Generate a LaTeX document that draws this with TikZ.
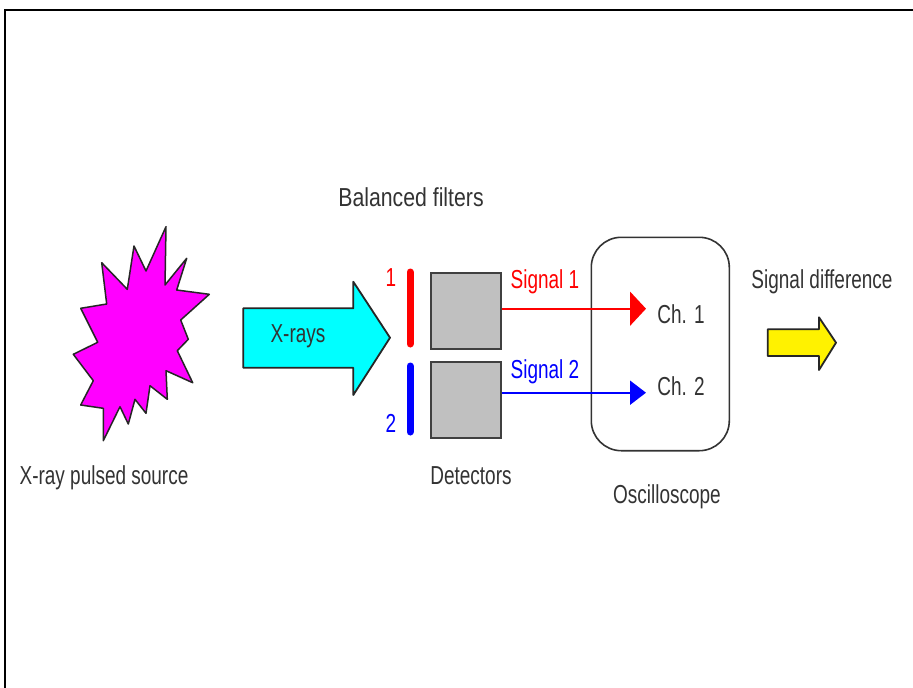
\documentclass[tikz,border=0pt]{standalone}
\usepackage{fontspec}
\setmainfont{Liberation Sans}
\usetikzlibrary{arrows.meta}
\definecolor{inkdark}{HTML}{333333}
\definecolor{burst}{HTML}{FF00FF}
\definecolor{xcyan}{HTML}{00FFFF}
\definecolor{boxgray}{HTML}{C0C0C0}
\tikzset{
  lab/.style={font=\fontsize{26}{26}\selectfont, text=inkdark, inner sep=0pt, anchor=base, xscale=.73, transform shape},
  outline/.style={draw=black!85, line width=1.8pt, line join=round},
  detector/.style={draw=black!75, line width=2pt, fill=boxgray, minimum width=70pt, inner sep=0pt},
  filterbar/.style={line width=7pt, line cap=round},
  sigline/.style={line width=2pt}
}
\begin{document}
\begin{tikzpicture}[x=1pt,y=-1pt]
\useasboundingbox (0,0) rectangle (913,688);
\fill[white] (0,0) rectangle (913,688);
\draw[line width=2.5pt,black] (5,688) -- (5,10) -- (913,10);
% source
\draw[outline,fill=burst,line width=1.5pt] (166,226.7) -- (146,271) -- (134,246) -- (127.3,289.3) -- (101.7,262.7) -- (106.7,304) -- (80.7,308.3) -- (97.7,342.3) -- (73.3,354.3) -- (93.3,380.7) -- (80.7,405) -- (103.3,408.3) -- (103.3,440.7) -- (120,406.7) -- (128.3,424) -- (135,399.3) -- (146,413.3) -- (150,385.7) -- (167.3,399.3) -- (166,370.7) -- (192.7,382.7) -- (177.3,350.7) -- (188.3,339.3) -- (180.7,320) -- (209.3,294.3) -- (176.7,290) -- (186.7,258.3) -- (165,285) -- cycle;
% x-ray arrow
\draw[outline,fill=xcyan] (243.3,308.3) -- (353.3,308.3) -- (353.3,281.7) -- (390,337.7) -- (353.3,395) -- (353.3,367.7) -- (243.3,367.7) -- cycle;
% filters
\draw[filterbar,red] (410,272) -- (410,344);
\draw[filterbar,blue] (410,366) -- (410,432);
% detectors
\node[detector,minimum height=75.4pt] (det1) at (466,311) {};
\node[detector,minimum height=76.6pt] (det2) at (466,400) {};
% oscilloscope
\node[draw=black!80,line width=1.6pt,rounded corners=30pt,minimum width=138pt,minimum height=213.4pt,inner sep=0pt] (osc) at (660.3,344) {};
% signals
\coordinate (tip1) at (646,308.7);
\coordinate (tip2) at (646,392.7);
\draw[sigline,red,-{Triangle[length=16pt,width=34pt]}] (det1.east |- tip1) -- (tip1);
\draw[sigline,blue,-{Triangle[length=16pt,width=24pt]}] (det2.east |- tip2) -- (tip2);
% yellow arrow
\draw[outline,fill=yellow] (767.7,329.3) -- (819,329.3) -- (819,317.3) -- (836,342.7) -- (819,370) -- (819,356) -- (767.7,356) -- cycle;
% labels
\node[lab,xscale=1.12] (lbal) at (411,206) {Balanced filters};
\node[lab,xscale=1] (lsrc) at (104,484) {X-ray pulsed source};
\node[lab] (lxr) at (298,342) {X-rays};
\node[lab,text=red] (l1) at (391,286) {1};
\node[lab,text=blue] (l2) at (391,432) {2};
\node[lab,text=red] (ls1) at (545,288) {Signal 1};
\node[lab,text=blue] (ls2) at (545,378) {Signal 2};
\node[lab] (lc1) at (681,323) {Ch. 1};
\node[lab] (lc2) at (681,395) {Ch. 2};
\node[lab] (ldet) at (471,484) {Detectors};
\node[lab] (losc) at (667,503) {Oscilloscope};
\node[lab] (ldiff) at (822,288) {Signal difference};
\end{tikzpicture}
\end{document}
